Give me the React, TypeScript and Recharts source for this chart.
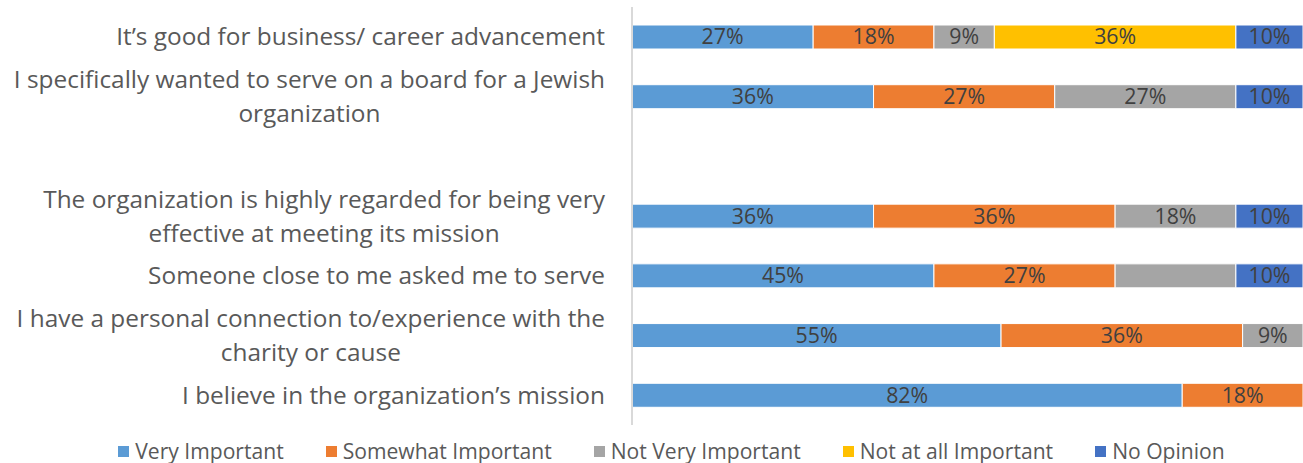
import React from 'react';
import { BarChart, Bar, XAxis, YAxis, LabelList } from 'recharts';

// top to bottom, the blank entry is the empty row in the original chart
const categories = [
  'It\u2019s good for business/ career advancement',
  'I specifically wanted to serve on a board for a Jewish\norganization',
  '',
  'The organization is highly regarded for being very\neffective at meeting its mission',
  'Someone close to me asked me to serve',
  'I have a personal connection to/experience with the\ncharity or cause',
  'I believe in the organization\u2019s mission',
];

const veryImportant = [27, 36, null, 36, 45, 55, 82];
const somewhatImportant = [18, 27, null, 36, 27, 36, 18];
const notVeryImportant = [9, 27, null, 18, 18, 9, null];
const notAtAllImportant = [36, null, null, null, null, null, null];
const noOpinion = [10, 10, null, 10, 10, null, null];

// the source chart leaves this one segment without a data label
const unlabeled = [{ series: 'notVery', row: 4 }];

const series = [
  { key: 'very', name: 'Very Important', color: '#5b9bd5', values: veryImportant },
  { key: 'somewhat', name: 'Somewhat Important', color: '#ed7d31', values: somewhatImportant },
  { key: 'notVery', name: 'Not Very Important', color: '#a5a5a5', values: notVeryImportant },
  { key: 'notAtAll', name: 'Not at all Important', color: '#ffc000', values: notAtAllImportant },
  { key: 'noOpinion', name: 'No Opinion', color: '#4472c4', values: noOpinion },
];

const data = categories.map((name, i) => {
  const row: any = { name };
  series.forEach((s) => {
    const v = s.values[i];
    row[s.key] = v;
    const hidden = unlabeled.some((u) => u.series === s.key && u.row === i);
    row[s.key + 'Label'] = v == null || hidden ? '' : `${v}%`;
  });
  return row;
});

const FONT = '"Open Sans", "Noto Sans", sans-serif';
const TICK_SIZE = 24.4;

let ctx: CanvasRenderingContext2D | null = null;
const measure = (s: string) => {
  if (!ctx) ctx = document.createElement('canvas').getContext('2d');
  if (!ctx) return s.length * TICK_SIZE * 0.5;
  ctx.font = `${TICK_SIZE}px "Open Sans"`;
  return ctx.measureText(s).width;
};

// wrapped labels are centred on their own block, whose right edge sits near the axis
const CategoryTick = ({ x, y, payload }: any) => {
  const lines = String(payload.value).split('\n').filter((l) => l.length);
  const lh = 34;
  const start = y - ((lines.length - 1) * lh) / 2;
  const right = x - 19;
  const blockW = Math.max(0, ...lines.map(measure));
  const multi = lines.length > 1;
  return (
    <g>
      {lines.map((line, i) => (
        <text
          key={i}
          x={multi ? right - blockW / 2 : right}
          y={start + i * lh}
          dy="0.35em"
          textAnchor={multi ? 'middle' : 'end'}
          fill="#595959"
          fontSize={TICK_SIZE}
          fontFamily={FONT}
        >
          {line}
        </text>
      ))}
    </g>
  );
};

const SegmentLabel = (props: any) => {
  const { x, y, width, height, value } = props;
  if (!value) return null;
  return (
    <text
      x={x + width / 2}
      y={y + height / 2}
      dy="0.35em"
      textAnchor="middle"
      fill="#404040"
      fontSize={21.3}
      fontFamily={FONT}
    >
      {value}
    </text>
  );
};

export default function App() {
  return (
    <div style={{ position: 'relative', width: 1303, height: 463, background: '#fff' }}>
      <style>{'body{margin:0}'}</style>
      <BarChart
        width={1303}
        height={463}
        data={data}
        layout="vertical"
        margin={{ top: 7, right: 0, bottom: 38, left: 0 }}
      >
        <XAxis type="number" domain={[0, 100]} hide />
        <YAxis
          type="category"
          dataKey="name"
          width={632}
          axisLine={{ stroke: '#d9d9d9', strokeWidth: 2 }}
          tickLine={false}
          interval={0}
          tick={<CategoryTick />}
        />
        {series.map((s) => (
          <Bar
            key={s.key}
            dataKey={s.key}
            name={s.name}
            stackId="a"
            fill={s.color}
            stroke="#ffffff"
            strokeWidth={1}
            barSize={24}
            isAnimationActive={false}
          >
            <LabelList dataKey={s.key + 'Label'} content={<SegmentLabel />} />
          </Bar>
        ))}
      </BarChart>
      <div
        style={{
          position: 'absolute',
          left: 0,
          right: 0,
          top: 439,
          height: 24,
          lineHeight: '24px',
          display: 'flex',
          justifyContent: 'center',
          gap: 42,
          fontFamily: FONT,
          fontSize: 21.1,
          color: '#595959',
          paddingLeft: 40,
        }}
      >
        {series.map((s) => (
          <div key={s.key} style={{ display: 'flex', alignItems: 'center', whiteSpace: 'nowrap' }}>
            <span style={{ width: 11, height: 11, background: s.color, marginRight: 6, display: 'inline-block' }} />
            <span>{s.name}</span>
          </div>
        ))}
      </div>
    </div>
  );
}
